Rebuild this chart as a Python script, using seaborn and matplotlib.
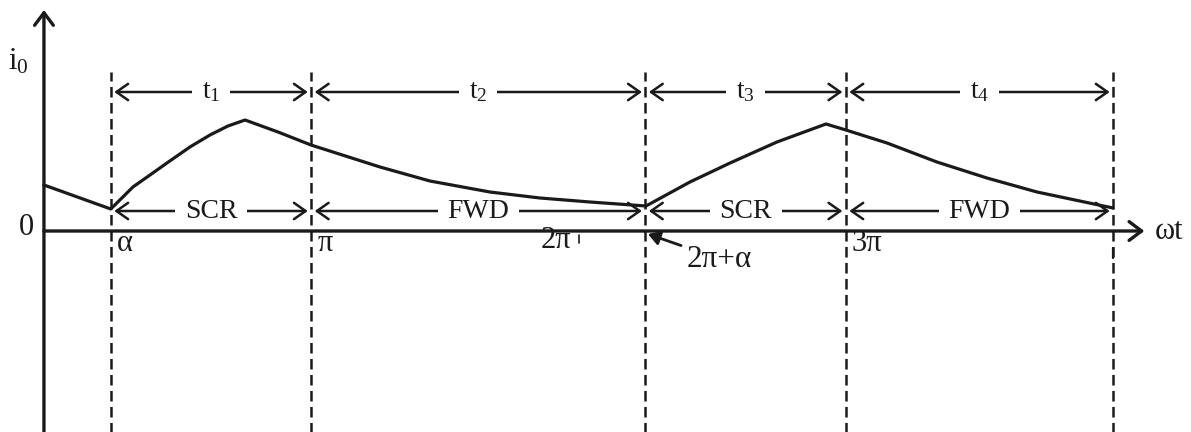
import matplotlib
matplotlib.use("Agg")
import matplotlib.pyplot as plt
import seaborn as sns
import pandas as pd

# current waveform i0 (x in electrical degrees)
wt_deg = [0, 45, 59.9, 71.4, 82.8, 98.3, 111.8, 123.9, 135.4,
          157.6, 179.8, 226.3, 259.9, 300.3, 334.0, 367.7, 405.4,
          435.0, 462.0, 493.6, 526.6,
          540.0, 567.7, 601.3, 635.0, 668.7, 719.9]
i0_vals = [0.46, 0.22, 0.44, 0.56, 0.68, 0.84, 0.96, 1.05, 1.11,
           0.99, 0.86, 0.64, 0.50, 0.39, 0.33, 0.29, 0.25,
           0.49, 0.68, 0.89, 1.07,
           1.01, 0.88, 0.69, 0.53, 0.39, 0.23]

# interval boundaries: alpha, pi, 2pi+alpha, 3pi, 4pi
boundaries = [45, 180, 405, 540, 720]
interval_labels = ["t$_1$", "t$_2$", "t$_3$", "t$_4$"]
device_labels = ["SCR", "FWD", "SCR", "FWD"]
angle_names = ["α", "π", "2π", "3π"]
angle_values = [45, 180, 360, 540]

sns.set_theme(style="white")
plt.rcParams["font.family"] = ["Liberation Serif", "DejaVu Serif"]
plt.rcParams["mathtext.fontset"] = "custom"
plt.rcParams["mathtext.rm"] = "Liberation Serif"
plt.rcParams["mathtext.it"] = "Liberation Serif:italic"

ink = "#1a1a1a"

fig = plt.figure(figsize=(11.91, 4.32), dpi=100)
ax = fig.add_axes([0, 0, 1, 1])
ax.set_xlim(-29.6, 772.4)
ax.set_ylim(-2.01, 2.31)
ax.axis("off")

df = pd.DataFrame({"wt": wt_deg, "i0": i0_vals})
sns.lineplot(data=df, x="wt", y="i0", sort=False, estimator=None,
             color=ink, lw=2.3, ax=ax, zorder=6)

# axes with arrow heads
axis_arrow = dict(arrowstyle="->,head_length=0.6,head_width=0.45",
                  lw=2.4, color=ink, mutation_scale=15,
                  shrinkA=0, shrinkB=0)
ax.annotate("", xy=(0, 2.21), xytext=(0, -2.1), arrowprops=axis_arrow, zorder=6)
ax.annotate("", xy=(741, 0), xytext=(0, 0), arrowprops=axis_arrow, zorder=6)

# dashed boundary lines
ax.vlines(boundaries, -2.1, 1.59, colors=ink, lw=1.8,
          linestyles=[(0, (4.2, 2.2))])

# dimension arrows with labels
dim_arrow = dict(arrowstyle="<->,head_length=0.6,head_width=0.42",
                 lw=1.8, color=ink, mutation_scale=14,
                 shrinkA=2.5, shrinkB=2.5)
for row_y, labels in [(1.39, interval_labels), (0.20, device_labels)]:
    for b0, b1, lab in zip(boundaries[:-1], boundaries[1:], labels):
        ax.annotate("", xy=(b1, row_y), xytext=(b0, row_y), arrowprops=dim_arrow)
        ax.text((b0 + b1) / 2, row_y, lab, ha="center", va="center",
                fontsize=20, color=ink, zorder=4,
                bbox=dict(fc="white", ec="none", boxstyle="square,pad=0.35"))

# angle labels under the axis
for name, val in zip(angle_names, angle_values):
    if name == "2π":
        ax.text(val - 5, -0.09, name, ha="right", va="center",
                fontsize=22, color=ink)
        ax.plot([val, val], [-0.04, -0.12], color=ink, lw=1.2)
    else:
        ax.text(val + 4, -0.12, name, ha="left", va="center",
                fontsize=22, color=ink)
ax.plot([720, 720], [-0.17, -0.27], color=ink, lw=1.6)

ax.annotate("2π+α", xy=(406.7, -0.03), xytext=(433, -0.28),
            ha="left", va="center", fontsize=22.5, color=ink,
            arrowprops=dict(arrowstyle="-|>,head_length=0.5,head_width=0.3",
                            lw=2.0, color=ink, mutation_scale=14,
                            shrinkA=2, shrinkB=0))

ax.text(-12, 0.04, "0", ha="center", va="center", fontsize=22, color=ink)
ax.text(-17, 1.69, "i$_0$", ha="center", va="center", fontsize=22, color=ink)
ax.text(748, 0.0, "ωt", ha="left", va="center", fontsize=22, color=ink)

fig.savefig("out.png", dpi=100)
